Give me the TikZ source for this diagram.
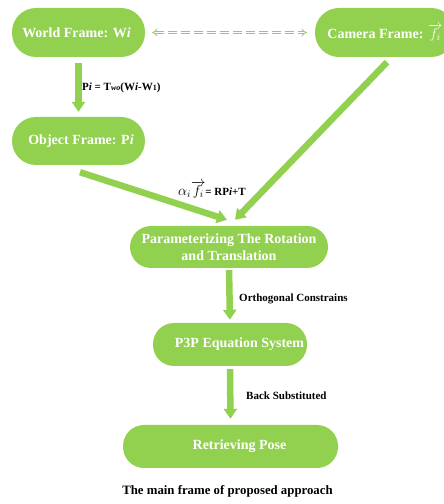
\documentclass[tikz,border=0pt]{standalone}
\usepackage{fontspec}
\setmainfont{Liberation Serif}
\usetikzlibrary{arrows.meta,calc}
\definecolor{boxGreen}{HTML}{92D050}

\begin{document}
\begin{tikzpicture}[x=1pt,y=1pt,
  frameBox/.style={fill=boxGreen, text=white, inner sep=0pt, align=center,
    font=\fontsize{14}{17}\selectfont\bfseries},
  flowArrow/.style={draw=boxGreen, line width=6.5pt,
    -{Triangle[width=13pt,length=10pt]}},
  flowLabel/.style={font=\fontsize{11}{13}\selectfont\bfseries}]
  \useasboundingbox (0,0) rectangle (444,504);

  % frames
  \node[frameBox, rounded corners=24pt, minimum width=133pt, minimum height=49pt]
    (world) at (78.5,471.5) {World Frame: W\textit{i}\hspace*{4pt}};
  \node[frameBox, rounded corners=24pt, minimum width=140pt, minimum height=49pt]
    (camera) at (385,471.5) {Camera Frame: {\fontsize{15}{15}\selectfont$\overrightarrow{f_i}$}};
  \node[frameBox, rounded corners=24pt, minimum width=133pt, minimum height=48pt]
    (object) at (78.5,363) {\hspace*{5pt}Object Frame: P\textit{i}};
  \node[frameBox, rounded corners=21pt, minimum width=198pt, minimum height=42pt]
    (param) at (229,257) {Parameterizing The Rotation\\and Translation};
  \node[frameBox, rounded corners=21pt, minimum width=154pt, minimum height=43pt]
    (ptp) at (230,159.5) {\hspace*{19pt}P3P Equation System};
  \node[frameBox, rounded corners=21pt, minimum width=215pt, minimum height=43pt]
    (pose) at (230.5,57.5) {\hspace*{18pt}Retrieving Pose};

  % world <-> camera
  \draw[boxGreen, line width=0.8pt, double=white, double distance=1.8pt,
    dash pattern=on 9pt off 4pt, {Implies}-{Implies}, shorten <=7pt, shorten >=8pt]
    (world.east) -- (camera.west);

  % flow
  \draw[flowArrow, shorten <=6pt, shorten >=5pt] (world.south) -- (object.north);
  \draw[flowArrow] ($(object.south)+(1.5,-7)$) -- ($(param.north)+(-2,6)$);
  \draw[flowArrow] ($(camera.south)+(2,-5)$) -- ($(param.north)+(6,6)$);
  \draw[flowArrow, shorten <=2pt, shorten >=3pt] (param.south) -- (ptp.north);
  \draw[flowArrow, shorten <=3pt, shorten >=6pt] (ptp.south) -- (pose.north);

  % labels
  \node[flowLabel, anchor=west, inner sep=0pt] (lblP) at (82,416)
    {P\textit{i} = T{\fontsize{8}{8}\selectfont\textit{wo}}(W\textit{i}-W{\fontsize{8}{8}\selectfont 1})};
  \node[flowLabel, inner sep=0pt] (lblF) at (212,314)
    {{\fontsize{14}{14}\selectfont$\alpha_i\overrightarrow{f_i}$}= RP\textit{i}+T};
  \node[flowLabel, anchor=west, inner sep=0pt] (lblO) at (239,205) {Orthogonal Constrains};
  \node[flowLabel, anchor=west, inner sep=0pt] (lblB) at (246,108) {Back Substituted};
  \node[font=\fontsize{12.8}{15}\selectfont\bfseries, inner sep=0pt] (caption) at (227.5,13)
    {The main frame of proposed approach};
\end{tikzpicture}
\end{document}
